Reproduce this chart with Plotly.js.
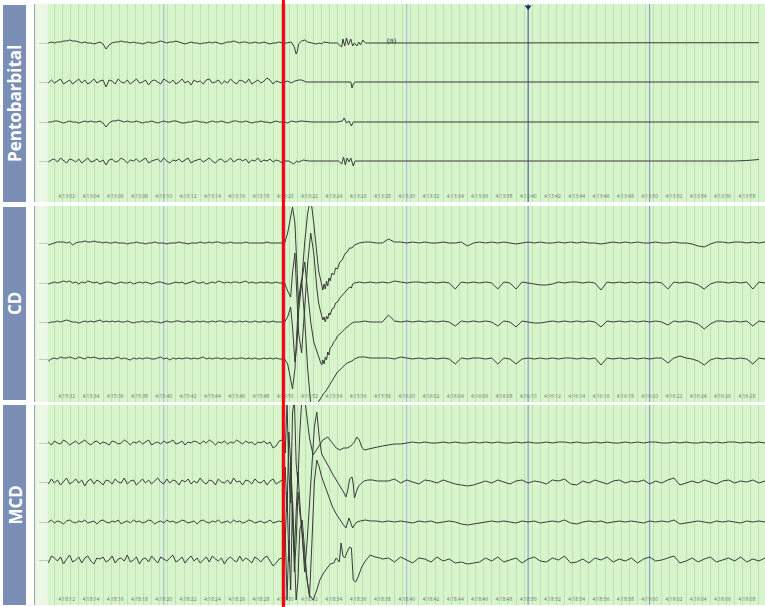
<!DOCTYPE html>
<html>
<head>
<meta charset="utf-8">
<script src="https://cdn.plot.ly/plotly-3.0.1.min.js"></script>
<style>
  html, body { margin: 0; padding: 0; background: #fff; }
  #eeg { width: 765px; height: 607px; }
</style>
</head>
<body>
<div id="eeg"></div>
<script>
// EEG de 4 canais em três condições (em unidades ~µV relativos)

const PAINEIS = ['Pentobarbital', 'CD', 'MCD'];
const OFFSETS = [[60, 21, -19, -58], [61, 21, -18, -55], [62, 23, -17, -55]];
const Y_MEIO = [99, 98, 100];
const PRE_INICIO = -9.5, PRE_PASSO = 0.25;
const POS_INICIO = [17, 18, 18.5];
const POS_PASSO = [1, 0.5, 0.5];
const INJECAO_T = 9.85;
const MAJOR_T = [0, 10, 20, 30, 40];
const MARCA_T = [30];
const RELOGIO_INICIO = [4 * 3600 + 13 * 60 + 10, 4 * 3600 + 15 * 60 + 40, 4 * 3600 + 18 * 60 + 20];

// --- Pentobarbital ---
const pentoPre = [
  [0,1,0,1,1,2,2,3,2,2, 1,0,1,0,0,-1,0,1,-1,-6, -2,0,1,1,2,1,1,0,1,0, 0,-1,0,1,0,0,1,2,1,0,
   1,1,2,1,0,-1,0,1,0,0, -1,0,0,1,0,1,0,-1,0,1, 1,2,1,0,1,1,0,0,1,0, 0,1,0,-1,0,0,1,0],
  [-1,2,-1,1,3,-2,0,2,-2,1, 3,-1,2,-2,0,3,-1,1,2,-5, 2,1,-2,3,0,-1,2,-2,1,3, -1,0,2,-3,1,2,0,-2,3,1,
   -1,2,-2,0,3,-1,1,-3,2,0, 1,-2,2,3,-1,0,2,-2,1,-1, 3,0,-2,2,1,-1,3,-2,0,2, -1,1,4,2,-2,1,0,-1],
  [0,0,1,1,0,-1,0,1,0,0, -1,0,1,0,1,0,0,1,-1,-5, -1,1,1,2,1,0,1,0,0,1, 0,-1,0,0,1,0,-1,0,1,0,
   0,1,1,0,-1,-1,0,0,1,1, 0,0,-1,0,1,0,0,1,0,-1, 0,1,1,0,0,1,0,-1,0,0, 1,0,0,-1,0,1,0,0],
  [-1,1,2,-1,3,0,-2,2,1,-1, 2,-2,1,3,-1,0,2,-1,1,-4, 1,2,-1,0,3,1,-2,1,0,2, -1,1,3,-2,0,1,2,-1,3,0,
   -2,1,0,2,-1,1,3,-2,0,1, 2,-1,1,3,0,-2,1,2,-1,0, 3,-1,1,2,0,2,-2,1,0,3, -1,1,0,2,-1,1,0,-2]
];
const pentoEvt = [
  [[9.95,0],[10.1,0],[10.5,1],[10.75,-4],[10.9,-11],[11.0,-8],[11.1,-1],[11.35,2],[11.6,3],[11.85,1],[12.2,0],[12.5,-1],[12.85,0],[13.0,-1],[13.2,1],[13.7,0],[14.3,0],[14.65,-4],[14.75,4],[14.9,-3],[15.05,5],[15.2,-2],[15.4,4],[15.55,-3],[15.7,0],[15.9,-3],[16.05,1],[16.2,-2],[16.4,3],[16.6,0]],
  [[9.95,0],[10.2,1],[10.5,-1],[10.8,1],[11.1,2],[11.35,2],[11.7,0],[12.3,0],[13.1,0],[14.3,0],[15.1,0],[15.4,0],[15.5,-6],[15.6,-2],[15.75,0],[16.6,0]],
  [[9.95,0],[10.2,-1],[10.5,1],[10.9,0],[11.3,1],[12.2,0],[13.0,0],[14.3,0],[14.7,1],[14.85,4],[15.05,-1],[15.25,1],[15.45,-4],[15.6,0],[16.6,0]],
  [[9.95,0],[10.3,0],[10.7,-3],[10.95,0],[11.1,-1],[11.5,1],[11.9,0],[12.7,0],[13.5,0],[14.4,0],[14.65,-3],[14.8,4],[14.95,-4],[15.1,3],[15.25,-1],[15.4,3],[15.6,-5],[15.75,0],[16.6,0]]
];
const pentoPos = [
  [0,0,0.3,0,-0.3,0,0.3,0.3,0,0,-0.3,0,0,0.3,0,0,0,-0.3,0,0,0.3,0,0,0,0.3,0,0,-0.3,0,0,0.3,0,0.3],
  [0,0.3,0,0,-0.3,0,0,0.3,0,-0.3,0,0,0.3,0,0,0,0.3,0,-0.3,0,0,0.3,0,0,0,-0.3,0,0.3,0,0,0,0.3,0],
  [0,0,0.3,0,0,-0.3,0,0,0.3,0,0,0.3,0,-0.3,0,0,0.3,0,0,0,0.3,0,0,-0.3,0,0,0.3,0,0,0,-0.3,0,0],
  [0,-0.3,0,0.3,0,0,0.3,0,-0.3,0,0,0,0.3,0,0,-0.3,0,0.3,0,0,0,0.3,0,0,-0.3,0,0,0.3,0,0,0,0.5,1.5]
];

// --- CD ---
const cdPre = [
  [-2,-1,0,1,1,1,0,1,-2,0, 1,1,2,1,1,2,1,1,0,1, 0,0,1,0,0,0,-1,0,0,1, 0,0,-1,0,0,1,0,0,0,-1,
   0,0,0,1,0,0,-1,0,0,0, 1,0,0,1,0,1,1,0,0,0, 1,0,0,0,0,1,0,0,0,0, 0,0,1,0,0,0,0,0],
  [-1,0,1,0,1,2,1,2,0,1, -1,1,0,2,1,0,1,-1,0,1, 1,0,-1,0,1,0,0,1,-1,0, 1,0,1,0,-1,0,1,1,0,-1,
   -1,0,1,0,1,-1,0,1,2,0, 0,1,-1,0,1,0,2,1,0,1, 0,1,1,0,1,2,0,1,0,0, 1,0,1,0,0,1,0,0],
  [-1,0,0,1,0,1,2,1,0,0, -1,0,1,0,1,0,1,2,0,1, 0,1,0,1,0,0,1,0,-1,0, 0,1,0,0,1,0,0,-1,0,1,
   0,0,1,1,0,0,1,0,0,1, 0,1,0,0,1,0,1,1,0,0, 1,0,0,1,0,1,0,0,1,0, 0,1,0,0,1,0,0,0],
  [-2,0,1,0,2,1,1,2,1,0, 2,1,0,2,1,2,1,0,1,0, 1,0,1,2,0,1,0,-1,1,0, 1,0,1,1,0,0,1,2,0,1,
   -1,1,0,1,0,1,1,0,1,0, 1,2,0,1,0,1,1,0,1,0, 0,1,0,1,1,0,1,0,1,0, 0,1,0,1,0,1,0,0]
];
const cdEvt = [
  [[9.95,0],[10.2,10],[10.45,25],[10.6,36],[10.8,20],[10.95,-20],[11.1,-60],[11.35,-40],[11.6,0],[11.85,30],[12.1,45],[12.35,20],[12.6,-15],[12.75,-28],[12.9,-36],[13.0,-42],[13.1,-47],[13.2,-41],[13.3,-46],[13.4,-38],[13.5,-43],[13.6,-35],[13.7,-38],[13.85,-30],[14.0,-32],[14.15,-25],[14.3,-26],[14.5,-19],[14.7,-17],[14.9,-11],[15.1,-9],[15.3,-5],[15.5,-5],[15.7,-2],[16.1,0],[16.55,1],[17.0,1],[17.5,0]],
  [[9.95,0],[10.2,-8],[10.45,-14],[10.6,10],[10.8,30],[10.95,-10],[11.1,-50],[11.35,-70],[11.6,-20],[11.85,20],[12.1,50],[12.35,30],[12.6,-5],[12.75,-20],[12.9,-28],[13.0,-33],[13.1,-37],[13.2,-34],[13.3,-39],[13.4,-33],[13.5,-36],[13.6,-30],[13.7,-32],[13.85,-26],[14.0,-25],[14.15,-20],[14.3,-19],[14.5,-15],[14.7,-12],[14.9,-9],[15.1,-7],[15.3,-4],[15.45,-5],[15.55,-1],[15.7,0],[16.1,1],[16.55,0],[17.0,1],[17.5,0]],
  [[9.95,0],[10.2,5],[10.45,15],[10.6,-5],[10.8,-40],[10.95,-25],[11.1,10],[11.35,40],[11.6,60],[11.85,30],[12.1,0],[12.35,-20],[12.6,-30],[12.75,-36],[12.9,-40],[13.0,-43],[13.1,-38],[13.2,-42],[13.3,-35],[13.4,-38],[13.5,-30],[13.6,-33],[13.7,-26],[13.85,-24],[14.0,-20],[14.15,-18],[14.3,-14],[14.5,-12],[14.7,-9],[14.9,-7],[15.1,-5],[15.3,-3],[15.5,-1],[15.7,0],[16.1,0],[16.55,1],[17.0,0],[17.5,0]],
  [[9.95,0],[10.2,-5],[10.45,-20],[10.6,-30],[10.8,-10],[10.95,20],[11.1,60],[11.35,80],[11.6,40],[11.85,-10],[12.1,-45],[12.35,-50],[12.6,-45],[12.75,-42],[12.9,-40],[13.0,-38],[13.1,-36],[13.2,-34],[13.3,-33],[13.4,-31],[13.5,-28],[13.6,-26],[13.7,-24],[13.85,-21],[14.0,-18],[14.15,-15],[14.3,-13],[14.5,-11],[14.7,-8],[14.9,-6],[15.1,-4],[15.3,-3],[15.5,-2],[15.7,0],[16.1,2],[16.55,2],[17.0,1],[17.5,1]]
];
const cdPos = [
  [0,4,1,1,0,1,0,1,0,0, 1,0,0,1,-3,0,1,0,1,0, 1,0,-1,0,1,0,1,0,0,1, 0,1,0,1,0,0,-1,0,1,0,
   1,0,1,0,0,1,0,0,1,0, 0,-1,-3,-4,-1,1,1,0,1,1, 0,1,0,1],
  [1,0,2,1,0,1,1,0,1,0, 1,0,-6,1,0,1,0,1,0,-6, 1,0,-6,1,0,-1,-2,-2,-1,1, 0,1,1,0,1,0,-7,1,0,1,
   0,1,0,1,0,1,0,-6,1,0, 1,0,-2,-6,-1,1,1,0,1,0, 1,-6,1,0],
  [0,7,1,0,1,0,1,0,1,0, 1,0,-4,1,0,1,0,1,0,-4, 1,0,-5,1,0,-1,-1,0,1,0, 1,0,1,0,1,0,-5,1,0,1,
   0,1,0,1,0,1,0,-3,1,0, 1,0,-2,-7,-2,1,1,0,1,0, 1,-4,1,0],
  [1,1,0,2,1,0,1,0,1,0, 1,0,-5,1,0,1,1,0,1,-5, 1,0,-5,0,1,0,1,0,1,0, 1,1,0,1,0,1,-6,1,0,1,
   0,1,0,1,0,1,1,-4,1,3, 1,0,-2,-6,-1,1,0,1,0,1, 0,-5,1,0]
];

// --- MCD ---
const mcdPre = [
  [1,-2,2,0,-1,3,1,-2,0,2, -1,1,3,0,-2,1,2,-1,1,0, -2,2,1,-1,0,3,1,-2,1,0, 2,-1,1,3,-2,0,1,-1,2,0,
   1,3,-1,0,2,-2,1,0,2,1, -1,2,0,3,1,-2,1,0,2,-1, 1,0,3,1,-1,2,0,1,-2,1, 0,2,-1,1,-5,-3,2,3],
  [-2,3,-1,2,-3,1,4,-2,0,3, -1,2,-4,1,3,-2,2,0,-3,2, 1,-2,3,0,-1,4,-2,1,2,-3, 0,3,-1,2,-2,1,4,0,-2,3,
   -1,2,1,-3,2,0,3,-2,1,-1, 4,0,-2,2,1,-3,3,0,-1,2, -2,4,0,1,-3,2,1,-2,3,0, -1,2,-3,1,3,-2,0,2],
  [0,2,-1,1,0,-2,1,2,0,-1, 1,0,2,-1,0,1,-2,1,2,0, -1,1,0,2,-2,0,1,-1,2,0, 1,-1,0,2,1,-2,0,1,-1,2,
   0,1,-1,0,2,1,-1,0,1,-2, 1,2,0,-1,1,0,2,-1,0,1, -1,2,0,1,-1,0,2,1,-1,0, 1,-1,0,2,-1,0,1,0],
  [-3,4,2,-1,3,-4,1,5,-2,0, 3,-3,2,4,-1,-4,2,1,3,-2, 0,4,-3,1,2,-1,5,-2,0,3, -4,1,2,-2,4,0,-3,3,1,-1,
   2,5,-2,0,3,-3,1,4,-1,2, -3,0,3,-2,4,1,-1,2,-4,1, 3,0,-2,4,-1,2,0,-3,3,1, -2,2,4,-1,-6,-3,1,2]
];
const mcdEvt = [
  [[9.9,2],[10.0,-10],[10.15,40],[10.3,-30],[10.45,-60],[10.6,30],[10.75,45],[10.9,-20],[11.05,-40],[11.2,10],[11.4,50],[11.6,45],[11.8,25],[12.0,5],[12.3,-12],[12.7,-4],[13.1,3],[13.5,6],[13.9,0],[14.2,-5],[14.5,-7],[14.8,-5],[15.1,-5],[15.4,-3],[15.7,1],[15.9,6],[16.1,3],[16.3,-4],[16.5,-7],[16.8,-6],[17.2,-5],[17.6,-4],[18.0,-3]],
  [[9.9,0],[10.0,15],[10.15,-30],[10.3,50],[10.45,20],[10.6,-40],[10.75,-70],[10.9,-30],[11.05,10],[11.2,-20],[11.4,-60],[11.6,-90],[11.8,-60],[12.0,-20],[12.2,20],[12.4,55],[12.6,70],[12.8,45],[13.0,28],[13.3,22],[13.6,15],[13.9,8],[14.2,2],[14.5,-3],[14.8,-10],[15.0,-15],[15.15,-8],[15.3,3],[15.5,5],[15.6,-2],[15.7,-16],[15.85,-10],[16.0,-5],[16.2,-2],[16.5,1],[16.8,2],[17.2,2],[17.6,1],[18.0,1]],
  [[9.9,0],[10.0,-20],[10.15,30],[10.3,-40],[10.45,60],[10.6,20],[10.75,-50],[10.9,-20],[11.05,30],[11.2,10],[11.4,-10],[11.6,-40],[11.8,-60],[12.0,-75],[12.2,-20],[12.4,40],[12.6,62],[12.8,55],[13.0,45],[13.3,35],[13.6,25],[13.9,15],[14.2,8],[14.5,2],[14.8,-3],[15.0,-6],[15.1,-2],[15.25,4],[15.4,-1],[15.55,-6],[15.7,-3],[15.9,0],[16.2,1],[16.6,2],[17.0,1],[17.5,1],[18.0,0]],
  [[9.9,-2],[10.0,30],[10.15,-40],[10.3,20],[10.45,-30],[10.6,60],[10.75,10],[10.9,-40],[11.05,-20],[11.2,30],[11.4,40],[11.6,10],[11.8,-20],[12.0,-35],[12.3,-40],[12.6,-30],[12.85,-20],[13.1,-14],[13.4,-9],[13.7,-4],[14.0,-3],[14.2,2],[14.45,-2],[14.6,17],[14.75,4],[14.9,2],[15.1,8],[15.3,13],[15.45,12],[15.6,-20],[15.8,-22],[16.0,-17],[16.3,-7],[16.6,-1],[17.0,5],[17.4,3],[17.8,2],[18.0,1]]
];
const mcdPos = [
  [-2,-1,-1,0,1,0,1,0,0,1, 0,1,0,0,1,0,1,0,1,0, 0,1,0,1,0,0,1,0,1,1, 0,1,0,0,1,0,1,0,0,1,
   0,1,0,1,1,0,0,1,0,1, 0,0,1,0,1,0,1,1,0,1, 0,1,0],
  [1,3,-1,2,0,-2,2,1,-1,2, 0,-2,-3,-4,-3,-1,1,-1,2,0, -2,1,2,-1,1,0,-2,2,1,3, -2,-3,1,-1,2,0,-2,1,2,-1,
   1,0,2,-2,1,-1,2,4,-3,-1, 1,-1,2,0,-2,1,2,-1,1,0, 2,-1,1],
  [1,0,1,0,-1,1,0,1,-1,0, 1,0,-2,-3,-2,-1,0,1,0,1, 0,-1,1,0,1,-1,0,1,0,2, -1,-2,0,1,0,1,-1,0,1,0,
   1,0,-1,1,0,1,0,2,-2,-1, 0,1,0,-1,1,0,1,0,-1,1, 0,1,0],
  [2,-2,3,0,-3,2,1,-2,3,-1, 1,-3,-2,-4,-3,-2,2,-1,3,-2, 0,2,-3,1,3,-1,-2,2,0,4, -3,-2,1,-3,2,0,3,-2,1,-1,
   2,-3,1,3,-1,0,2,4,-3,-1, 2,-2,1,3,-2,0,2,-1,3,-2, 1,-1,2]
];

const PRE = [pentoPre, cdPre, mcdPre];
const EVT = [pentoEvt, cdEvt, mcdEvt];
const POS = [pentoPos, cdPos, mcdPos];

// layout em pixels da figura original
const W = 765, H = 607;
const PAINEL_PX = [[4, 202], [206, 402], [405, 605]];
const ROTULO_PX = [[5, 202], [207, 400], [405, 605]];
const X_MIN = -10.6, X_MAX = 49.5, X_TRACO = -9.55;

function sufixo(p) { return p === 0 ? '' : String(p + 1); }

function montarCanal(p, c) {
  const xs = [], ys = [];
  const off = OFFSETS[p][c];
  PRE[p][c].forEach((v, i) => { xs.push(PRE_INICIO + i * PRE_PASSO); ys.push(v + off); });
  EVT[p][c].forEach(([t, v]) => { xs.push(t); ys.push(v + off); });
  POS[p][c].forEach((v, i) => { xs.push(POS_INICIO[p] + i * POS_PASSO[p]); ys.push(v + off); });
  return {
    x: xs, y: ys, type: 'scatter', mode: 'lines',
    xaxis: 'x' + sufixo(p), yaxis: 'y' + sufixo(p),
    line: { color: '#3a3a3a', width: 1 },
    hoverinfo: 'skip', showlegend: false
  };
}

function relogio(seg) {
  const h = Math.floor(seg / 3600), m = Math.floor(seg / 60) % 60, s = Math.floor(seg) % 60;
  return h + ':' + String(m).padStart(2, '0') + ':' + String(s).padStart(2, '0');
}

const traces = [];
PAINEIS.forEach((_, p) => {
  for (let c = 0; c < 4; c++) traces.push(montarCanal(p, c));
});
traces.push({
  x: MARCA_T, y: [96], type: 'scatter', mode: 'markers', xaxis: 'x', yaxis: 'y',
  marker: { symbol: 'triangle-down', size: 6, color: '#1c2a66' },
  hoverinfo: 'skip', showlegend: false
});

const tickT = [];
for (let t = -8; t <= 48; t += 2) tickT.push(t);

const layout = {
  width: W, height: H,
  margin: { l: 0, r: 0, t: 0, b: 0 },
  paper_bgcolor: '#ffffff',
  plot_bgcolor: 'rgba(0,0,0,0)',
  font: { family: 'Open Sans, sans-serif', color: '#333' },
  shapes: [],
  annotations: []
};

PAINEIS.forEach((nome, p) => {
  const s = sufixo(p);
  const [top, bot] = PAINEL_PX[p];
  layout['xaxis' + s] = {
    domain: [35 / W, 1], range: [X_MIN, X_MAX], anchor: 'y' + s,
    tickmode: 'array', tickvals: tickT,
    ticktext: tickT.map(t => relogio(RELOGIO_INICIO[p] + t)),
    ticklabelposition: 'inside', ticks: '',
    tickfont: { size: 5, color: '#777' },
    showgrid: false, zeroline: false, showline: false, fixedrange: true,
    minor: { tick0: 1 / 3, dtick: 2 / 3, showgrid: true, gridcolor: '#bde3b0', gridwidth: 1, ticks: '' }
  };
  layout['yaxis' + s] = {
    domain: [1 - bot / H, 1 - top / H], range: [-Y_MEIO[p], Y_MEIO[p]], anchor: 'x' + s,
    showticklabels: false, ticks: '',
    showgrid: false, zeroline: false, showline: true, linecolor: '#a8a8a8', linewidth: 1,
    fixedrange: true
  };

  // fundo verde do registro
  layout.shapes.push({
    type: 'rect', xref: 'x' + s + ' domain', yref: 'y' + s + ' domain',
    x0: 0, x1: 1, y0: 0, y1: 1,
    fillcolor: '#d7f4cc', line: { width: 0 }, layer: 'below'
  });

  // linhas verticais principais
  MAJOR_T.forEach(t => {
    let cor = '#a3b4e2';
    if (t >= 30) cor = '#7d93cc';
    if (p === 0 && t === 30) cor = '#34478e';
    layout.shapes.push({
      type: 'line', xref: 'x' + s, yref: 'y' + s + ' domain',
      x0: t, x1: t, y0: 0, y1: 1,
      line: { color: cor, width: 1 }, layer: 'below'
    });
  });

  // faixa clara à esquerda (coluna dos nomes dos canais), cobre a grade
  layout.shapes.push({
    type: 'rect', xref: 'x' + s, yref: 'y' + s + ' domain',
    x0: X_MIN + 0.08, x1: X_TRACO, y0: 0, y1: 1,
    fillcolor: '#eaf8e5', line: { width: 0 }, layer: 'above'
  });

  // marcas curtas com o nível de cada canal
  OFFSETS[p].forEach(off => {
    layout.annotations.push({
      xref: 'x' + s, yref: 'y' + s, x: X_MIN + 0.15, y: off,
      text: '——', showarrow: false, xanchor: 'left', yanchor: 'middle',
      font: { size: 5, color: '#8a8a8a' }
    });
  });

  // caixa do rótulo lateral
  const [rt, rb] = ROTULO_PX[p];
  layout.shapes.push({
    type: 'rect', xref: 'paper', yref: 'paper',
    x0: 3 / W, x1: 26 / W, y0: 1 - rb / H, y1: 1 - rt / H,
    fillcolor: '#7a8eb6', line: { width: 0 }, layer: 'above'
  });
  layout.annotations.push({
    xref: 'paper', yref: 'paper', x: 14.5 / W, y: 1 - (rt + rb) / 2 / H,
    text: '<b>' + nome + '</b>', showarrow: false, textangle: -90,
    font: { family: 'Open Sans, sans-serif', size: 17, color: '#ffffff' },
    xanchor: 'center', yanchor: 'middle'
  });
});

// linha vermelha: momento da injeção
layout.shapes.push({
  type: 'line', xref: 'x', yref: 'paper',
  x0: INJECAO_T, x1: INJECAO_T, y0: 0, y1: 1,
  line: { color: '#ff0000', width: 3 }, layer: 'above'
});

layout.annotations.push({
  xref: 'x', yref: 'y', x: 18.8, y: OFFSETS[0][0] + 4,
  text: '(a)', showarrow: false,
  font: { size: 8, color: '#333' }
});

Plotly.newPlot('eeg', traces, layout, { displayModeBar: false, staticPlot: true });
</script>
</body>
</html>
